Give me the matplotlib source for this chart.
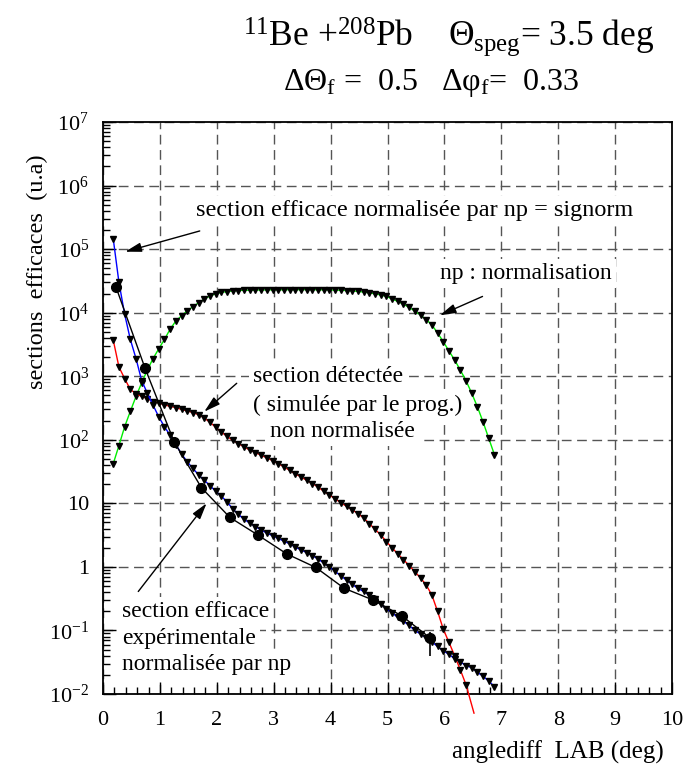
import numpy as np
import matplotlib
matplotlib.use('Agg')
import matplotlib.pyplot as plt
from matplotlib.ticker import FixedLocator, FixedFormatter, MultipleLocator, LogLocator, NullFormatter

plt.rcParams['font.family'] = 'Liberation Serif'
plt.rcParams['mathtext.fontset'] = 'custom'
plt.rcParams['mathtext.rm'] = 'Liberation Serif'
plt.rcParams['mathtext.it'] = 'Liberation Serif:italic'
plt.rcParams['mathtext.bf'] = 'Liberation Serif:bold'

# angle grid of the simulation (deg)
angle = [0.18, 0.28, 0.38, 0.48, 0.58, 0.68, 0.78, 0.88, 0.98, 1.08,
         1.18, 1.28, 1.38, 1.48, 1.58, 1.68, 1.78, 1.88, 1.98, 2.08,
         2.18, 2.28, 2.38, 2.48, 2.58, 2.68, 2.78, 2.88, 2.98, 3.08,
         3.18, 3.28, 3.38, 3.48, 3.58, 3.68, 3.78, 3.88, 3.98, 4.08,
         4.18, 4.28, 4.38, 4.48, 4.58, 4.68, 4.78, 4.88, 4.98, 5.08,
         5.18, 5.28, 5.38, 5.48, 5.58, 5.68, 5.78, 5.88, 5.98, 6.08,
         6.18, 6.28, 6.38, 6.48, 6.58, 6.68, 6.78, 6.88]

# np : normalisation (vert)
np_norm = [42, 81, 160, 280, 480, 790, 1260, 1900, 2700, 3800,
           5500, 7400, 8900, 10700, 12400, 14300, 16400, 18300, 19800, 20800,
           21500, 22000, 22300, 22500, 22600, 22700, 22800, 22800, 22900, 22900,
           22900, 23000, 23000, 23000, 23000, 23000, 22900, 22900, 22800, 22700,
           22500, 22300, 22000, 21600, 21100, 20500, 19800, 19000, 18000, 16500,
           15000, 13600, 12100, 10600, 9200, 7800, 6400, 4800, 3500, 2500,
           1800, 1250, 850, 540, 330, 190, 105, 58]

# section detectee non normalisee (rouge), jusqu'a 6.38 deg
sig_det = [3700, 1400, 920, 620, 530, 480, 445, 400, 380, 355,
           335, 322, 300, 285, 268, 248, 220, 188, 158, 132,
           113, 98, 87, 77, 69, 63, 57, 52, 47, 42,
           37.5, 33, 29, 26, 23, 20.5, 18, 15.5, 13.5, 11.8,
           10.2, 9.0, 7.9, 6.9, 5.9, 4.8, 3.9, 3.2, 2.5, 2.0,
           1.6, 1.3, 1.05, 0.84, 0.67, 0.52, 0.36, 0.2, 0.105, 0.065,
           0.04, 0.024, 0.014]
det_tail_angle = 6.52   # la courbe rouge sort du cadre
det_tail = 0.005

# signorm (bleu)
signorm = [145000, 30000, 9500, 3800, 1900, 850, 540, 350, 230, 160,
           118, 84, 60, 45, 35.5, 28, 23, 19, 15.5, 13,
           10.5, 8.2, 6.7, 5.6, 4.9, 4.3, 3.8, 3.4, 3.1, 2.8,
           2.55, 2.3, 2.05, 1.85, 1.68, 1.5, 1.33, 1.15, 1.0, 0.85,
           0.72, 0.62, 0.53, 0.46, 0.41, 0.36, 0.31, 0.26, 0.22, 0.19,
           0.16, 0.14, 0.12, 0.10, 0.088, 0.076, 0.066, 0.056, 0.048, 0.042,
           0.036, 0.032, 0.028, 0.026, 0.022, 0.019, 0.016, 0.013]

# section efficace experimentale
exp_angle = [0.23, 0.74, 1.25, 1.73, 2.23, 2.73, 3.23, 3.74, 4.24, 4.75, 5.25, 5.75]
exp_sig = [25000, 1330, 93, 17.6, 6.0, 3.14, 1.6, 0.98, 0.46, 0.30, 0.17, 0.076]
exp_err_lo = [500, 30, 2, 0.4, 0.15, 0.08, 0.05, 0.04, 0.02, 0.015, 0.01, 0.037]
exp_err_hi = [500, 30, 2, 0.4, 0.15, 0.08, 0.05, 0.04, 0.02, 0.015, 0.01, 0.02]

xticks = [0, 1, 2, 3, 4, 5, 6, 7, 8, 9, 10]
yticks = [1e-2, 1e-1, 1, 10, 1e2, 1e3, 1e4, 1e5, 1e6, 1e7]
ylabels = ['$10^{-2}$', '$10^{-1}$', '1', '10', '$10^{2}$', '$10^{3}$',
           '$10^{4}$', '$10^{5}$', '$10^{6}$', '$10^{7}$']

fig = plt.figure(figsize=(6.85, 7.74), dpi=100)
ax = fig.add_axes([103/685, 1-694/774, 569/685, 572/774])
ax.set_yscale('log')
ax.set_xlim(0, 10)
ax.set_ylim(1e-2, 1e7)

ax.set_axisbelow(True)
ax.grid(True, which='major', color='#555555', linestyle=(0, (7, 4)), linewidth=1)

ax.plot(angle, np_norm, color='#00ee00', lw=1, marker='v', ms=4.5, mfc='k', mec='k', zorder=3)
ax.plot(angle[:len(sig_det)] + [det_tail_angle], sig_det + [det_tail], color='red', lw=1,
        marker='v', ms=4.5, mfc='k', mec='k', markevery=slice(0, len(sig_det)), clip_on=False, zorder=3)
ax.plot(angle, signorm, color='blue', lw=1, marker='v', ms=4.5, mfc='k', mec='k', zorder=3)
ax.errorbar(exp_angle, exp_sig, yerr=[exp_err_lo, exp_err_hi], color='k', lw=1,
            marker='o', ms=7, elinewidth=1.2, capsize=0, zorder=4)

box = dict(facecolor='white', edgecolor='none', pad=3)
fs = 17
ax.text(5.48, 4.1e5, 'section efficace normalisée par np = signorm', fontsize=17.5,
        ha='center', va='center', bbox=box, zorder=1.5)
ax.text(7.43, 4.1e4, 'np : normalisation', fontsize=fs, ha='center', va='center', bbox=box, zorder=1.5)
ax.text(2.64, 973, 'section détectée', fontsize=fs, ha='left', va='center', bbox=box, zorder=1.5)
ax.text(2.64, 353, '( simulée par le prog.)', fontsize=fs, ha='left', va='center', bbox=box, zorder=1.5)
ax.text(2.93, 134, 'non normalisée', fontsize=fs, ha='left', va='center', bbox=box, zorder=1.5)
ax.text(0.33, 0.197, 'section efficace', fontsize=fs, ha='left', va='center', bbox=box, zorder=1.5)
ax.text(0.33, 0.0735, 'expérimentale', fontsize=fs, ha='left', va='center', bbox=box, zorder=1.5)
ax.text(0.33, 0.0286, 'normalisée par np', fontsize=fs, ha='left', va='center', bbox=box, zorder=1.5)

arrow = dict(arrowstyle='-|>,head_length=0.7,head_width=0.2', color='k', lw=1,
             mutation_scale=14, shrinkA=0, shrinkB=0)
ax.annotate('', xy=(0.39, 9.1e4), xytext=(1.70, 1.93e5), arrowprops=arrow)
ax.annotate('', xy=(5.92, 9.1e3), xytext=(6.67, 1.8e4), arrowprops=arrow)
ax.annotate('', xy=(1.78, 277), xytext=(2.35, 774), arrowprops=arrow)
ax.annotate('', xy=(1.82, 10), xytext=(0.62, 0.41), arrowprops=arrow)

ax.xaxis.set_major_locator(FixedLocator(xticks))
ax.xaxis.set_minor_locator(MultipleLocator(0.2))
ax.yaxis.set_major_locator(FixedLocator(yticks))
ax.yaxis.set_major_formatter(FixedFormatter(ylabels))
ax.yaxis.set_minor_locator(LogLocator(base=10, subs=np.arange(2, 10), numticks=20))
ax.yaxis.set_minor_formatter(NullFormatter())
ax.tick_params(which='both', direction='in', top=False, right=False, labelsize=16, width=1)
ax.tick_params(which='major', length=9)
ax.tick_params(which='minor', length=5)
ax.tick_params(axis='x', pad=12)
ax.tick_params(axis='y', pad=10)
for s in ax.spines.values():
    s.set_linewidth(1.3)

fig.text(449/685, 1-37/774, r'$^{11}$Be +$^{208}$Pb    $\Theta_{\rm speg}$= 3.5 deg',
         fontsize=25.5, ha='center', va='center')
fig.text(431/685, 1-83/774, r'$\Delta\Theta_{\rm f}$ =  0.5   $\Delta\mathrm{\varphi}_{\rm f}$=  0.33',
         fontsize=23, ha='center', va='center')
fig.text(37/685, 1-272/774, 'sections  efficaces  (u.a)', rotation=90, fontsize=17.5,
         ha='center', va='center')
fig.text(664/685, 1-752/774, 'anglediff  LAB (deg)', fontsize=18, ha='right', va='center')

fig.savefig('out.png', dpi=100)
